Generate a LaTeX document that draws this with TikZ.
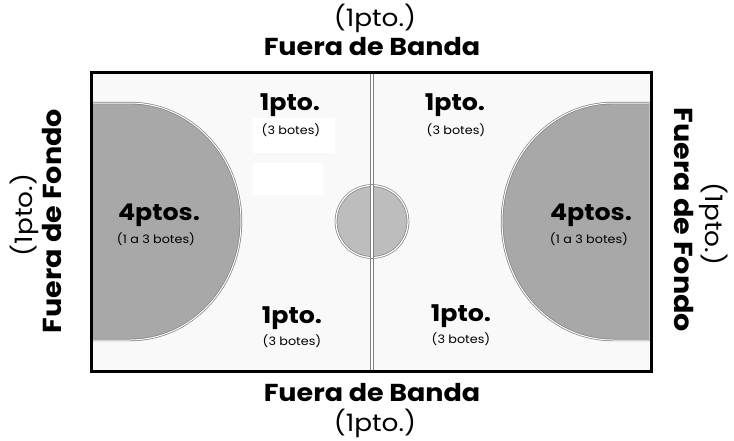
\documentclass[tikz,border=0pt]{standalone}
\usepackage{fontspec}
\setmainfont[FakeStretch=1.1]{Poppins}
\begin{document}
\begin{tikzpicture}[x=1pt,y=-1pt,
  court/.style={fill=black!2.5,draw=black,line width=3pt},
  zone/.style={fill=black!34,draw=black!50,line width=0.7pt,double=white,double distance=1pt},
  circ/.style={fill=black!26,draw=black!50,line width=0.7pt,double=white,double distance=1.2pt},
  mid/.style={draw=black!50,line width=0.8pt,double=white,double distance=1.8pt},
  patch/.style={fill=white,draw=none},
  big/.style={font=\fontsize{24.5}{28}\selectfont\bfseries},
  side/.style={font=\fontsize{26}{30}\selectfont\bfseries},
  paren/.style={font=\fontsize{24}{28}\selectfont},
  pts/.style={font=\fontsize{23}{26}\selectfont\bfseries},
  sub/.style={font=\fontsize{11.6}{13}\selectfont}]
\useasboundingbox (0,0) rectangle (734,440);
\fill[white] (0,0) rectangle (734,440);
\path[court] (91,72) rectangle (651,371);
% white patches
\fill[patch] (253,118) rectangle (335,153);
\fill[patch] (253,163) rectangle (323,195);
% zones
\path[zone] (92.5,103) -- (130,103) arc[start angle=-90,end angle=90,x radius=111,y radius=118.5] -- (92.5,340);
\path[zone] (649.5,103) -- (613,103) arc[start angle=-90,end angle=-270,x radius=111,y radius=118.5] -- (649.5,340);
% midline and circle
\coordinate (mt) at (372,73.5);
\coordinate (mb) at (372,369.5);
\path[mid] (mt) -- (mb);
\node[circle,circ,minimum size=72pt,inner sep=0pt] (cc) at (372,221.5) {};
\path[mid] (cc.north) -- (cc.south);
% outline redraw
\draw[line width=3pt] (91,72) rectangle (651,371);
% labels
\node[paren] (t1) at (375,18) {(1pto.)};
\node[big] (t2) at (372,47) {Fuera de Banda};
\node[big] (b2) at (372,393) {Fuera de Banda};
\node[paren] (b1) at (375,423) {(1pto.)};
\node[side,rotate=90] (l2) at (52,221) {Fuera de Fondo};
\node[paren,rotate=90] (l1) at (24,215) {(1pto.)};
\node[side,rotate=-90] (r2) at (684,220) {Fuera de Fondo};
\node[paren,rotate=-90] (r1) at (714,224) {(1pto.)};
\node[pts] (a1) at (290,105) {1pto.};
\node[sub] (a2) at (291,130) {(3 botes)};
\node[pts] (c1) at (455,105) {1pto.};
\node[sub] (c2) at (456,130) {(3 botes)};
\node[pts] (d1) at (292,318) {1pto.};
\node[sub] (d2) at (292,341) {(3 botes)};
\node[pts] (e1) at (461,316) {1pto.};
\node[sub] (e2) at (461,339) {(3 botes)};
\node[pts] (f1) at (159,215) {4ptos.};
\node[sub] (f2) at (156,239) {(1 a 3 botes)};
\node[pts] (g1) at (591,215) {4ptos.};
\node[sub] (g2) at (589,239) {(1 a 3 botes)};
\end{tikzpicture}
\end{document}
